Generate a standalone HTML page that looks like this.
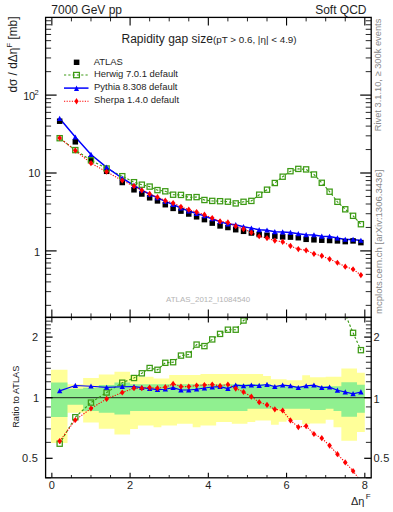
<!DOCTYPE html>
<html><head><meta charset="utf-8"><style>
html,body{margin:0;padding:0;background:#fff;width:393px;height:512px;overflow:hidden}
svg{display:block}
text{font-family:"Liberation Sans",sans-serif}
</style></head><body>
<svg width="393" height="512" viewBox="0 0 393 512">
<defs>
<clipPath id="cm"><rect x="45.60" y="17.40" width="325.60" height="300.00"/></clipPath>
<clipPath id="cr"><rect x="45.60" y="317.40" width="325.60" height="160.40"/></clipPath>
</defs>

<g clip-path="url(#cr)">
<polygon points="51.00,369.70 67.50,369.70 67.50,384.30 83.15,384.30 83.15,378.00 98.79,378.00 98.79,374.50 114.44,374.50 114.44,371.80 130.09,371.80 130.09,375.10 137.91,375.10 137.91,376.80 145.74,376.80 145.74,376.80 153.56,376.80 153.56,378.50 161.39,378.50 161.39,378.50 169.21,378.50 169.21,375.10 177.03,375.10 177.03,375.10 184.86,375.10 184.86,375.10 192.68,375.10 192.68,375.10 200.51,375.10 200.51,374.10 208.33,374.10 208.33,374.10 216.15,374.10 216.15,374.10 223.98,374.10 223.98,374.10 231.80,374.10 231.80,374.10 239.63,374.10 239.63,374.10 247.45,374.10 247.45,374.10 255.27,374.10 255.27,374.10 263.10,374.10 263.10,376.00 270.92,376.00 270.92,379.30 278.75,379.30 278.75,379.30 286.57,379.30 286.57,380.20 294.39,380.20 294.39,380.20 302.22,380.20 302.22,375.30 310.04,375.30 310.04,377.30 317.87,377.30 317.87,377.30 325.69,377.30 325.69,376.80 333.51,376.80 333.51,376.80 341.34,376.80 341.34,368.60 349.16,368.60 349.16,368.60 356.99,368.60 356.99,372.80 364.81,372.80 364.81,432.00 356.99,432.00 356.99,440.70 349.16,440.70 349.16,440.70 341.34,440.70 341.34,427.20 333.51,427.20 333.51,419.80 325.69,419.80 325.69,423.50 317.87,423.50 317.87,423.50 310.04,423.50 310.04,424.20 302.22,424.20 302.22,420.00 294.39,420.00 294.39,420.00 286.57,420.00 286.57,421.70 278.75,421.70 278.75,424.70 270.92,424.70 270.92,420.50 263.10,420.50 263.10,420.50 255.27,420.50 255.27,422.10 247.45,422.10 247.45,423.80 239.63,423.80 239.63,423.80 231.80,423.80 231.80,422.10 223.98,422.10 223.98,422.10 216.15,422.10 216.15,425.50 208.33,425.50 208.33,425.50 200.51,425.50 200.51,427.20 192.68,427.20 192.68,423.80 184.86,423.80 184.86,423.80 177.03,423.80 177.03,425.50 169.21,425.50 169.21,425.50 161.39,425.50 161.39,427.20 153.56,427.20 153.56,425.50 145.74,425.50 145.74,425.50 137.91,425.50 137.91,428.90 130.09,428.90 130.09,434.40 114.44,434.40 114.44,428.80 98.79,428.80 98.79,422.50 83.15,422.50 83.15,412.70 67.50,412.70 67.50,442.90 51.00,442.90" fill="#ffff99"/>
<polygon points="51.00,382.40 67.50,382.40 67.50,388.70 83.15,388.70 83.15,387.80 98.79,387.80 98.79,385.10 114.44,385.10 114.44,382.50 130.09,382.50 130.09,384.20 137.91,384.20 137.91,384.20 145.74,384.20 145.74,384.20 153.56,384.20 153.56,384.20 161.39,384.20 161.39,384.20 169.21,384.20 169.21,384.20 177.03,384.20 177.03,384.20 184.86,384.20 184.86,384.20 192.68,384.20 192.68,384.20 200.51,384.20 200.51,384.20 208.33,384.20 208.33,384.20 216.15,384.20 216.15,384.20 223.98,384.20 223.98,384.20 231.80,384.20 231.80,384.20 239.63,384.20 239.63,384.20 247.45,384.20 247.45,384.20 255.27,384.20 255.27,384.20 263.10,384.20 263.10,384.20 270.92,384.20 270.92,386.30 278.75,386.30 278.75,386.30 286.57,386.30 286.57,386.30 294.39,386.30 294.39,386.30 302.22,386.30 302.22,386.30 310.04,386.30 310.04,386.30 317.87,386.30 317.87,386.30 325.69,386.30 325.69,386.30 333.51,386.30 333.51,386.30 341.34,386.30 341.34,382.20 349.16,382.20 349.16,382.20 356.99,382.20 356.99,384.70 364.81,384.70 364.81,412.80 356.99,412.80 356.99,416.80 349.16,416.80 349.16,416.80 341.34,416.80 341.34,411.10 333.51,411.10 333.51,408.70 325.69,408.70 325.69,409.90 317.87,409.90 317.87,409.90 310.04,409.90 310.04,408.70 302.22,408.70 302.22,408.70 294.39,408.70 294.39,408.70 286.57,408.70 286.57,408.70 278.75,408.70 278.75,408.70 270.92,408.70 270.92,408.70 263.10,408.70 263.10,408.70 255.27,408.70 255.27,408.70 247.45,408.70 247.45,411.00 239.63,411.00 239.63,411.00 231.80,411.00 231.80,411.00 223.98,411.00 223.98,411.00 216.15,411.00 216.15,411.00 208.33,411.00 208.33,411.00 200.51,411.00 200.51,411.00 192.68,411.00 192.68,411.00 184.86,411.00 184.86,411.00 177.03,411.00 177.03,411.00 169.21,411.00 169.21,411.00 161.39,411.00 161.39,411.00 153.56,411.00 153.56,411.00 145.74,411.00 145.74,411.00 137.91,411.00 137.91,411.00 130.09,411.00 130.09,414.50 114.44,414.50 114.44,412.70 98.79,412.70 98.79,411.00 83.15,411.00 83.15,404.70 67.50,404.70 67.50,417.10 51.00,417.10" fill="#90f090"/>
<line x1="45.6" y1="397.7" x2="371.2" y2="397.7" stroke="#111" stroke-width="0.9"/>
<polyline points="59.67,443.70 75.32,417.20 90.97,402.60 106.62,392.50 122.27,382.70 134.00,378.00 141.83,373.30 149.65,368.00 157.47,369.80 165.30,362.80 173.12,362.20 180.95,355.60 188.77,354.50 196.59,344.60 204.42,346.10 212.24,339.40 220.07,333.90 227.89,329.70 235.71,329.70 243.54,320.50 251.36,314.75 259.19,294.85 267.01,279.87 274.83,260.49 282.66,242.14 290.48,227.41 298.31,219.92 306.13,217.07 313.95,228.96 321.78,249.37 329.60,271.60 337.43,296.66 345.25,314.23 353.07,332.84 360.90,350.15" fill="none" stroke="#3c9a14" stroke-width="1.15" stroke-dasharray="2.4,2"/>
<polyline points="59.67,390.90 75.32,385.50 90.97,386.20 106.62,387.40 122.27,386.70 134.00,386.60 141.83,387.60 149.65,388.60 157.47,389.60 165.30,389.20 173.12,387.60 180.95,390.00 188.77,390.00 196.59,389.20 204.42,388.00 212.24,387.00 220.07,386.60 227.89,388.60 235.71,385.10 243.54,385.90 251.36,385.10 259.19,385.50 267.01,384.50 274.83,386.60 282.66,385.10 290.48,385.90 298.31,387.60 306.13,385.90 313.95,385.10 321.78,387.60 329.60,387.10 337.43,390.30 345.25,392.00 353.07,393.80 360.90,392.00" fill="none" stroke="#0000ff" stroke-width="1.15"/>
<polyline points="59.67,441.10 75.32,420.00 90.97,408.50 106.62,398.90 122.27,392.50 134.00,388.20 141.83,388.20 149.65,387.60 157.47,388.20 165.30,387.20 173.12,383.90 180.95,386.60 188.77,386.60 196.59,385.50 204.42,385.00 212.24,384.50 220.07,385.90 227.89,384.50 235.71,388.60 243.54,392.00 251.36,396.70 259.19,402.20 267.01,404.90 274.83,409.30 282.66,410.50 290.48,420.40 298.31,427.10 306.13,426.10 313.95,434.00 321.78,438.20 329.60,445.60 337.43,454.20 345.25,462.40 353.07,471.00 360.90,481.50" fill="none" stroke="#ff0000" stroke-width="1.1" stroke-dasharray="1.2,1.4"/>
</g>
<g clip-path="url(#cr)">
<rect x="57.07" y="441.10" width="5.2" height="5.2" fill="none" stroke="#3c9a14" stroke-width="1.25"/>
<rect x="72.72" y="414.60" width="5.2" height="5.2" fill="none" stroke="#3c9a14" stroke-width="1.25"/>
<rect x="88.37" y="400.00" width="5.2" height="5.2" fill="none" stroke="#3c9a14" stroke-width="1.25"/>
<rect x="104.02" y="389.90" width="5.2" height="5.2" fill="none" stroke="#3c9a14" stroke-width="1.25"/>
<rect x="119.67" y="380.10" width="5.2" height="5.2" fill="none" stroke="#3c9a14" stroke-width="1.25"/>
<rect x="131.40" y="375.40" width="5.2" height="5.2" fill="none" stroke="#3c9a14" stroke-width="1.25"/>
<rect x="139.23" y="370.70" width="5.2" height="5.2" fill="none" stroke="#3c9a14" stroke-width="1.25"/>
<rect x="147.05" y="365.40" width="5.2" height="5.2" fill="none" stroke="#3c9a14" stroke-width="1.25"/>
<rect x="154.87" y="367.20" width="5.2" height="5.2" fill="none" stroke="#3c9a14" stroke-width="1.25"/>
<rect x="162.70" y="360.20" width="5.2" height="5.2" fill="none" stroke="#3c9a14" stroke-width="1.25"/>
<rect x="170.52" y="359.60" width="5.2" height="5.2" fill="none" stroke="#3c9a14" stroke-width="1.25"/>
<rect x="178.35" y="353.00" width="5.2" height="5.2" fill="none" stroke="#3c9a14" stroke-width="1.25"/>
<rect x="186.17" y="351.90" width="5.2" height="5.2" fill="none" stroke="#3c9a14" stroke-width="1.25"/>
<rect x="193.99" y="342.00" width="5.2" height="5.2" fill="none" stroke="#3c9a14" stroke-width="1.25"/>
<rect x="201.82" y="343.50" width="5.2" height="5.2" fill="none" stroke="#3c9a14" stroke-width="1.25"/>
<rect x="209.64" y="336.80" width="5.2" height="5.2" fill="none" stroke="#3c9a14" stroke-width="1.25"/>
<rect x="217.47" y="331.30" width="5.2" height="5.2" fill="none" stroke="#3c9a14" stroke-width="1.25"/>
<rect x="225.29" y="327.10" width="5.2" height="5.2" fill="none" stroke="#3c9a14" stroke-width="1.25"/>
<rect x="233.11" y="327.10" width="5.2" height="5.2" fill="none" stroke="#3c9a14" stroke-width="1.25"/>
<rect x="240.94" y="317.90" width="5.2" height="5.2" fill="none" stroke="#3c9a14" stroke-width="1.25"/>
<rect x="248.76" y="312.15" width="5.2" height="5.2" fill="none" stroke="#3c9a14" stroke-width="1.25"/>
<rect x="256.59" y="292.25" width="5.2" height="5.2" fill="none" stroke="#3c9a14" stroke-width="1.25"/>
<rect x="264.41" y="277.27" width="5.2" height="5.2" fill="none" stroke="#3c9a14" stroke-width="1.25"/>
<rect x="272.23" y="257.89" width="5.2" height="5.2" fill="none" stroke="#3c9a14" stroke-width="1.25"/>
<rect x="280.06" y="239.54" width="5.2" height="5.2" fill="none" stroke="#3c9a14" stroke-width="1.25"/>
<rect x="287.88" y="224.81" width="5.2" height="5.2" fill="none" stroke="#3c9a14" stroke-width="1.25"/>
<rect x="295.71" y="217.32" width="5.2" height="5.2" fill="none" stroke="#3c9a14" stroke-width="1.25"/>
<rect x="303.53" y="214.47" width="5.2" height="5.2" fill="none" stroke="#3c9a14" stroke-width="1.25"/>
<rect x="311.35" y="226.36" width="5.2" height="5.2" fill="none" stroke="#3c9a14" stroke-width="1.25"/>
<rect x="319.18" y="246.77" width="5.2" height="5.2" fill="none" stroke="#3c9a14" stroke-width="1.25"/>
<rect x="327.00" y="269.00" width="5.2" height="5.2" fill="none" stroke="#3c9a14" stroke-width="1.25"/>
<rect x="334.83" y="294.06" width="5.2" height="5.2" fill="none" stroke="#3c9a14" stroke-width="1.25"/>
<rect x="342.65" y="311.63" width="5.2" height="5.2" fill="none" stroke="#3c9a14" stroke-width="1.25"/>
<rect x="350.47" y="330.24" width="5.2" height="5.2" fill="none" stroke="#3c9a14" stroke-width="1.25"/>
<rect x="358.30" y="347.55" width="5.2" height="5.2" fill="none" stroke="#3c9a14" stroke-width="1.25"/>
</g>
<g clip-path="url(#cr)">
<polygon points="59.67,388.20 62.37,393.30 56.97,393.30" fill="#0000ff"/>
<polygon points="75.32,382.80 78.02,387.90 72.62,387.90" fill="#0000ff"/>
<polygon points="90.97,383.50 93.67,388.60 88.27,388.60" fill="#0000ff"/>
<polygon points="106.62,384.70 109.32,389.80 103.92,389.80" fill="#0000ff"/>
<polygon points="122.27,384.00 124.97,389.10 119.57,389.10" fill="#0000ff"/>
<polygon points="134.00,383.90 136.70,389.00 131.30,389.00" fill="#0000ff"/>
<polygon points="141.83,384.90 144.53,390.00 139.13,390.00" fill="#0000ff"/>
<polygon points="149.65,385.90 152.35,391.00 146.95,391.00" fill="#0000ff"/>
<polygon points="157.47,386.90 160.17,392.00 154.77,392.00" fill="#0000ff"/>
<polygon points="165.30,386.50 168.00,391.60 162.60,391.60" fill="#0000ff"/>
<polygon points="173.12,384.90 175.82,390.00 170.42,390.00" fill="#0000ff"/>
<polygon points="180.95,387.30 183.65,392.40 178.25,392.40" fill="#0000ff"/>
<polygon points="188.77,387.30 191.47,392.40 186.07,392.40" fill="#0000ff"/>
<polygon points="196.59,386.50 199.29,391.60 193.89,391.60" fill="#0000ff"/>
<polygon points="204.42,385.30 207.12,390.40 201.72,390.40" fill="#0000ff"/>
<polygon points="212.24,384.30 214.94,389.40 209.54,389.40" fill="#0000ff"/>
<polygon points="220.07,383.90 222.77,389.00 217.37,389.00" fill="#0000ff"/>
<polygon points="227.89,385.90 230.59,391.00 225.19,391.00" fill="#0000ff"/>
<polygon points="235.71,382.40 238.41,387.50 233.01,387.50" fill="#0000ff"/>
<polygon points="243.54,383.20 246.24,388.30 240.84,388.30" fill="#0000ff"/>
<polygon points="251.36,382.40 254.06,387.50 248.66,387.50" fill="#0000ff"/>
<polygon points="259.19,382.80 261.89,387.90 256.49,387.90" fill="#0000ff"/>
<polygon points="267.01,381.80 269.71,386.90 264.31,386.90" fill="#0000ff"/>
<polygon points="274.83,383.90 277.53,389.00 272.13,389.00" fill="#0000ff"/>
<polygon points="282.66,382.40 285.36,387.50 279.96,387.50" fill="#0000ff"/>
<polygon points="290.48,383.20 293.18,388.30 287.78,388.30" fill="#0000ff"/>
<polygon points="298.31,384.90 301.01,390.00 295.61,390.00" fill="#0000ff"/>
<polygon points="306.13,383.20 308.83,388.30 303.43,388.30" fill="#0000ff"/>
<polygon points="313.95,382.40 316.65,387.50 311.25,387.50" fill="#0000ff"/>
<polygon points="321.78,384.90 324.48,390.00 319.08,390.00" fill="#0000ff"/>
<polygon points="329.60,384.40 332.30,389.50 326.90,389.50" fill="#0000ff"/>
<polygon points="337.43,387.60 340.13,392.70 334.73,392.70" fill="#0000ff"/>
<polygon points="345.25,389.30 347.95,394.40 342.55,394.40" fill="#0000ff"/>
<polygon points="353.07,391.10 355.77,396.20 350.37,396.20" fill="#0000ff"/>
<polygon points="360.90,389.30 363.60,394.40 358.20,394.40" fill="#0000ff"/>
</g>
<g clip-path="url(#cr)">
<polygon points="59.67,438.00 61.97,441.10 59.67,444.20 57.37,441.10" fill="#ff0000"/>
<polygon points="75.32,416.90 77.62,420.00 75.32,423.10 73.02,420.00" fill="#ff0000"/>
<polygon points="90.97,405.40 93.27,408.50 90.97,411.60 88.67,408.50" fill="#ff0000"/>
<polygon points="106.62,395.80 108.92,398.90 106.62,402.00 104.32,398.90" fill="#ff0000"/>
<polygon points="122.27,389.40 124.57,392.50 122.27,395.60 119.97,392.50" fill="#ff0000"/>
<polygon points="134.00,385.10 136.30,388.20 134.00,391.30 131.70,388.20" fill="#ff0000"/>
<polygon points="141.83,385.10 144.13,388.20 141.83,391.30 139.53,388.20" fill="#ff0000"/>
<polygon points="149.65,384.50 151.95,387.60 149.65,390.70 147.35,387.60" fill="#ff0000"/>
<polygon points="157.47,385.10 159.77,388.20 157.47,391.30 155.17,388.20" fill="#ff0000"/>
<polygon points="165.30,384.10 167.60,387.20 165.30,390.30 163.00,387.20" fill="#ff0000"/>
<polygon points="173.12,380.80 175.42,383.90 173.12,387.00 170.82,383.90" fill="#ff0000"/>
<polygon points="180.95,383.50 183.25,386.60 180.95,389.70 178.65,386.60" fill="#ff0000"/>
<polygon points="188.77,383.50 191.07,386.60 188.77,389.70 186.47,386.60" fill="#ff0000"/>
<polygon points="196.59,382.40 198.89,385.50 196.59,388.60 194.29,385.50" fill="#ff0000"/>
<polygon points="204.42,381.90 206.72,385.00 204.42,388.10 202.12,385.00" fill="#ff0000"/>
<polygon points="212.24,381.40 214.54,384.50 212.24,387.60 209.94,384.50" fill="#ff0000"/>
<polygon points="220.07,382.80 222.37,385.90 220.07,389.00 217.77,385.90" fill="#ff0000"/>
<polygon points="227.89,381.40 230.19,384.50 227.89,387.60 225.59,384.50" fill="#ff0000"/>
<polygon points="235.71,385.50 238.01,388.60 235.71,391.70 233.41,388.60" fill="#ff0000"/>
<polygon points="243.54,388.90 245.84,392.00 243.54,395.10 241.24,392.00" fill="#ff0000"/>
<polygon points="251.36,393.60 253.66,396.70 251.36,399.80 249.06,396.70" fill="#ff0000"/>
<polygon points="259.19,399.10 261.49,402.20 259.19,405.30 256.89,402.20" fill="#ff0000"/>
<polygon points="267.01,401.80 269.31,404.90 267.01,408.00 264.71,404.90" fill="#ff0000"/>
<polygon points="274.83,406.20 277.13,409.30 274.83,412.40 272.53,409.30" fill="#ff0000"/>
<polygon points="282.66,407.40 284.96,410.50 282.66,413.60 280.36,410.50" fill="#ff0000"/>
<polygon points="290.48,417.30 292.78,420.40 290.48,423.50 288.18,420.40" fill="#ff0000"/>
<polygon points="298.31,424.00 300.61,427.10 298.31,430.20 296.01,427.10" fill="#ff0000"/>
<polygon points="306.13,423.00 308.43,426.10 306.13,429.20 303.83,426.10" fill="#ff0000"/>
<polygon points="313.95,430.90 316.25,434.00 313.95,437.10 311.65,434.00" fill="#ff0000"/>
<polygon points="321.78,435.10 324.08,438.20 321.78,441.30 319.48,438.20" fill="#ff0000"/>
<polygon points="329.60,442.50 331.90,445.60 329.60,448.70 327.30,445.60" fill="#ff0000"/>
<polygon points="337.43,451.10 339.73,454.20 337.43,457.30 335.13,454.20" fill="#ff0000"/>
<polygon points="345.25,459.30 347.55,462.40 345.25,465.50 342.95,462.40" fill="#ff0000"/>
<polygon points="353.07,467.90 355.37,471.00 353.07,474.10 350.77,471.00" fill="#ff0000"/>
<polygon points="360.90,478.40 363.20,481.50 360.90,484.60 358.60,481.50" fill="#ff0000"/>
</g>
<g clip-path="url(#cm)">
<polyline points="59.67,138.20 75.32,150.10 90.97,160.30 106.62,168.50 122.27,176.20 134.00,182.20 141.83,184.70 149.65,186.60 157.47,190.10 165.30,191.30 173.12,194.70 180.95,194.90 188.77,197.30 196.59,197.10 204.42,200.00 212.24,200.90 220.07,201.20 227.89,201.70 235.71,203.40 243.54,201.80 251.36,200.90 259.19,194.70 267.01,189.70 274.83,183.00 282.66,176.70 290.48,171.20 298.31,168.90 306.13,169.40 313.95,174.50 321.78,182.80 329.60,191.70 337.43,201.80 345.25,209.30 353.07,215.80 360.90,224.20" fill="none" stroke="#3c9a14" stroke-width="1.15" stroke-dasharray="2.4,2"/>
<polyline points="59.67,118.57 75.32,137.08 90.97,154.55 106.62,167.31 122.27,178.24 134.00,185.50 141.83,190.09 149.65,194.28 157.47,197.77 165.30,201.41 173.12,204.49 180.95,208.12 188.77,211.02 196.59,213.51 204.42,215.85 212.24,218.96 220.07,221.60 227.89,223.98 235.71,224.82 243.54,226.73 251.36,228.12 259.19,229.78 267.01,230.19 274.83,231.80 282.66,232.02 290.48,232.53 298.31,233.79 306.13,234.73 313.95,234.92 321.78,236.29 329.60,236.40 337.43,238.04 345.25,239.39 353.07,239.39 360.90,240.39" fill="none" stroke="#0000ff" stroke-width="1.5"/>
<polyline points="59.67,138.00 75.32,150.43 90.97,163.18 106.62,171.76 122.27,180.49 134.00,186.12 141.83,190.32 149.65,193.89 157.47,197.22 165.30,200.64 173.12,203.06 180.95,206.80 188.77,209.70 196.59,212.08 204.42,214.69 212.24,217.99 220.07,221.33 227.89,222.39 235.71,226.18 243.54,229.09 251.36,232.61 259.19,236.24 267.01,238.09 274.83,240.59 282.66,241.85 290.48,245.88 298.31,249.08 306.13,250.29 313.95,253.85 321.78,255.87 329.60,259.04 337.43,262.76 345.25,266.64 353.07,269.27 360.90,275.03" fill="none" stroke="#ff0000" stroke-width="1.1" stroke-dasharray="1.2,1.4"/>
</g>
<g clip-path="url(#cm)">
<rect x="56.92" y="118.45" width="5.5" height="5.5" fill="#000"/>
<rect x="72.57" y="139.05" width="5.5" height="5.5" fill="#000"/>
<rect x="88.22" y="156.25" width="5.5" height="5.5" fill="#000"/>
<rect x="103.87" y="168.55" width="5.5" height="5.5" fill="#000"/>
<rect x="119.52" y="179.75" width="5.5" height="5.5" fill="#000"/>
<rect x="131.25" y="187.05" width="5.5" height="5.5" fill="#000"/>
<rect x="139.08" y="191.25" width="5.5" height="5.5" fill="#000"/>
<rect x="146.90" y="195.05" width="5.5" height="5.5" fill="#000"/>
<rect x="154.72" y="198.15" width="5.5" height="5.5" fill="#000"/>
<rect x="162.55" y="201.95" width="5.5" height="5.5" fill="#000"/>
<rect x="170.37" y="205.65" width="5.5" height="5.5" fill="#000"/>
<rect x="178.20" y="208.35" width="5.5" height="5.5" fill="#000"/>
<rect x="186.02" y="211.25" width="5.5" height="5.5" fill="#000"/>
<rect x="193.84" y="214.05" width="5.5" height="5.5" fill="#000"/>
<rect x="201.67" y="216.85" width="5.5" height="5.5" fill="#000"/>
<rect x="209.49" y="220.35" width="5.5" height="5.5" fill="#000"/>
<rect x="217.32" y="223.15" width="5.5" height="5.5" fill="#000"/>
<rect x="225.14" y="224.75" width="5.5" height="5.5" fill="#000"/>
<rect x="232.96" y="226.95" width="5.5" height="5.5" fill="#000"/>
<rect x="240.79" y="228.55" width="5.5" height="5.5" fill="#000"/>
<rect x="248.61" y="230.25" width="5.5" height="5.5" fill="#000"/>
<rect x="256.44" y="231.75" width="5.5" height="5.5" fill="#000"/>
<rect x="264.26" y="232.55" width="5.5" height="5.5" fill="#000"/>
<rect x="272.08" y="233.35" width="5.5" height="5.5" fill="#000"/>
<rect x="279.91" y="234.15" width="5.5" height="5.5" fill="#000"/>
<rect x="287.73" y="234.35" width="5.5" height="5.5" fill="#000"/>
<rect x="295.56" y="234.95" width="5.5" height="5.5" fill="#000"/>
<rect x="303.38" y="236.55" width="5.5" height="5.5" fill="#000"/>
<rect x="311.20" y="237.05" width="5.5" height="5.5" fill="#000"/>
<rect x="319.03" y="237.45" width="5.5" height="5.5" fill="#000"/>
<rect x="326.85" y="237.75" width="5.5" height="5.5" fill="#000"/>
<rect x="334.68" y="238.15" width="5.5" height="5.5" fill="#000"/>
<rect x="342.50" y="238.85" width="5.5" height="5.5" fill="#000"/>
<rect x="350.32" y="238.15" width="5.5" height="5.5" fill="#000"/>
<rect x="358.15" y="239.85" width="5.5" height="5.5" fill="#000"/>
</g>
<g clip-path="url(#cm)">
<rect x="57.07" y="135.60" width="5.2" height="5.2" fill="none" stroke="#3c9a14" stroke-width="1.25"/>
<rect x="72.72" y="147.50" width="5.2" height="5.2" fill="none" stroke="#3c9a14" stroke-width="1.25"/>
<rect x="88.37" y="157.70" width="5.2" height="5.2" fill="none" stroke="#3c9a14" stroke-width="1.25"/>
<rect x="104.02" y="165.90" width="5.2" height="5.2" fill="none" stroke="#3c9a14" stroke-width="1.25"/>
<rect x="119.67" y="173.60" width="5.2" height="5.2" fill="none" stroke="#3c9a14" stroke-width="1.25"/>
<rect x="131.40" y="179.60" width="5.2" height="5.2" fill="none" stroke="#3c9a14" stroke-width="1.25"/>
<rect x="139.23" y="182.10" width="5.2" height="5.2" fill="none" stroke="#3c9a14" stroke-width="1.25"/>
<rect x="147.05" y="184.00" width="5.2" height="5.2" fill="none" stroke="#3c9a14" stroke-width="1.25"/>
<rect x="154.87" y="187.50" width="5.2" height="5.2" fill="none" stroke="#3c9a14" stroke-width="1.25"/>
<rect x="162.70" y="188.70" width="5.2" height="5.2" fill="none" stroke="#3c9a14" stroke-width="1.25"/>
<rect x="170.52" y="192.10" width="5.2" height="5.2" fill="none" stroke="#3c9a14" stroke-width="1.25"/>
<rect x="178.35" y="192.30" width="5.2" height="5.2" fill="none" stroke="#3c9a14" stroke-width="1.25"/>
<rect x="186.17" y="194.70" width="5.2" height="5.2" fill="none" stroke="#3c9a14" stroke-width="1.25"/>
<rect x="193.99" y="194.50" width="5.2" height="5.2" fill="none" stroke="#3c9a14" stroke-width="1.25"/>
<rect x="201.82" y="197.40" width="5.2" height="5.2" fill="none" stroke="#3c9a14" stroke-width="1.25"/>
<rect x="209.64" y="198.30" width="5.2" height="5.2" fill="none" stroke="#3c9a14" stroke-width="1.25"/>
<rect x="217.47" y="198.60" width="5.2" height="5.2" fill="none" stroke="#3c9a14" stroke-width="1.25"/>
<rect x="225.29" y="199.10" width="5.2" height="5.2" fill="none" stroke="#3c9a14" stroke-width="1.25"/>
<rect x="233.11" y="200.80" width="5.2" height="5.2" fill="none" stroke="#3c9a14" stroke-width="1.25"/>
<rect x="240.94" y="199.20" width="5.2" height="5.2" fill="none" stroke="#3c9a14" stroke-width="1.25"/>
<rect x="248.76" y="198.30" width="5.2" height="5.2" fill="none" stroke="#3c9a14" stroke-width="1.25"/>
<rect x="256.59" y="192.10" width="5.2" height="5.2" fill="none" stroke="#3c9a14" stroke-width="1.25"/>
<rect x="264.41" y="187.10" width="5.2" height="5.2" fill="none" stroke="#3c9a14" stroke-width="1.25"/>
<rect x="272.23" y="180.40" width="5.2" height="5.2" fill="none" stroke="#3c9a14" stroke-width="1.25"/>
<rect x="280.06" y="174.10" width="5.2" height="5.2" fill="none" stroke="#3c9a14" stroke-width="1.25"/>
<rect x="287.88" y="168.60" width="5.2" height="5.2" fill="none" stroke="#3c9a14" stroke-width="1.25"/>
<rect x="295.71" y="166.30" width="5.2" height="5.2" fill="none" stroke="#3c9a14" stroke-width="1.25"/>
<rect x="303.53" y="166.80" width="5.2" height="5.2" fill="none" stroke="#3c9a14" stroke-width="1.25"/>
<rect x="311.35" y="171.90" width="5.2" height="5.2" fill="none" stroke="#3c9a14" stroke-width="1.25"/>
<rect x="319.18" y="180.20" width="5.2" height="5.2" fill="none" stroke="#3c9a14" stroke-width="1.25"/>
<rect x="327.00" y="189.10" width="5.2" height="5.2" fill="none" stroke="#3c9a14" stroke-width="1.25"/>
<rect x="334.83" y="199.20" width="5.2" height="5.2" fill="none" stroke="#3c9a14" stroke-width="1.25"/>
<rect x="342.65" y="206.70" width="5.2" height="5.2" fill="none" stroke="#3c9a14" stroke-width="1.25"/>
<rect x="350.47" y="213.20" width="5.2" height="5.2" fill="none" stroke="#3c9a14" stroke-width="1.25"/>
<rect x="358.30" y="221.60" width="5.2" height="5.2" fill="none" stroke="#3c9a14" stroke-width="1.25"/>
</g>
<g clip-path="url(#cm)">
<polygon points="59.67,115.87 62.37,120.97 56.97,120.97" fill="#0000ff"/>
<polygon points="75.32,134.38 78.02,139.48 72.62,139.48" fill="#0000ff"/>
<polygon points="90.97,151.85 93.67,156.95 88.27,156.95" fill="#0000ff"/>
<polygon points="106.62,164.61 109.32,169.71 103.92,169.71" fill="#0000ff"/>
<polygon points="122.27,175.54 124.97,180.64 119.57,180.64" fill="#0000ff"/>
<polygon points="134.00,182.80 136.70,187.90 131.30,187.90" fill="#0000ff"/>
<polygon points="141.83,187.39 144.53,192.49 139.13,192.49" fill="#0000ff"/>
<polygon points="149.65,191.58 152.35,196.68 146.95,196.68" fill="#0000ff"/>
<polygon points="157.47,195.07 160.17,200.17 154.77,200.17" fill="#0000ff"/>
<polygon points="165.30,198.71 168.00,203.81 162.60,203.81" fill="#0000ff"/>
<polygon points="173.12,201.79 175.82,206.89 170.42,206.89" fill="#0000ff"/>
<polygon points="180.95,205.42 183.65,210.52 178.25,210.52" fill="#0000ff"/>
<polygon points="188.77,208.32 191.47,213.42 186.07,213.42" fill="#0000ff"/>
<polygon points="196.59,210.81 199.29,215.91 193.89,215.91" fill="#0000ff"/>
<polygon points="204.42,213.15 207.12,218.25 201.72,218.25" fill="#0000ff"/>
<polygon points="212.24,216.26 214.94,221.36 209.54,221.36" fill="#0000ff"/>
<polygon points="220.07,218.90 222.77,224.00 217.37,224.00" fill="#0000ff"/>
<polygon points="227.89,221.28 230.59,226.38 225.19,226.38" fill="#0000ff"/>
<polygon points="235.71,222.12 238.41,227.22 233.01,227.22" fill="#0000ff"/>
<polygon points="243.54,224.03 246.24,229.13 240.84,229.13" fill="#0000ff"/>
<polygon points="251.36,225.42 254.06,230.52 248.66,230.52" fill="#0000ff"/>
<polygon points="259.19,227.08 261.89,232.18 256.49,232.18" fill="#0000ff"/>
<polygon points="267.01,227.49 269.71,232.59 264.31,232.59" fill="#0000ff"/>
<polygon points="274.83,229.10 277.53,234.20 272.13,234.20" fill="#0000ff"/>
<polygon points="282.66,229.32 285.36,234.42 279.96,234.42" fill="#0000ff"/>
<polygon points="290.48,229.83 293.18,234.93 287.78,234.93" fill="#0000ff"/>
<polygon points="298.31,231.09 301.01,236.19 295.61,236.19" fill="#0000ff"/>
<polygon points="306.13,232.03 308.83,237.13 303.43,237.13" fill="#0000ff"/>
<polygon points="313.95,232.22 316.65,237.32 311.25,237.32" fill="#0000ff"/>
<polygon points="321.78,233.59 324.48,238.69 319.08,238.69" fill="#0000ff"/>
<polygon points="329.60,233.70 332.30,238.80 326.90,238.80" fill="#0000ff"/>
<polygon points="337.43,235.34 340.13,240.44 334.73,240.44" fill="#0000ff"/>
<polygon points="345.25,236.69 347.95,241.79 342.55,241.79" fill="#0000ff"/>
<polygon points="353.07,236.69 355.77,241.79 350.37,241.79" fill="#0000ff"/>
<polygon points="360.90,237.69 363.60,242.79 358.20,242.79" fill="#0000ff"/>
</g>
<g clip-path="url(#cm)">
<polygon points="59.67,134.90 61.97,138.00 59.67,141.10 57.37,138.00" fill="#ff0000"/>
<polygon points="75.32,147.33 77.62,150.43 75.32,153.53 73.02,150.43" fill="#ff0000"/>
<polygon points="90.97,160.08 93.27,163.18 90.97,166.28 88.67,163.18" fill="#ff0000"/>
<polygon points="106.62,168.66 108.92,171.76 106.62,174.86 104.32,171.76" fill="#ff0000"/>
<polygon points="122.27,177.39 124.57,180.49 122.27,183.59 119.97,180.49" fill="#ff0000"/>
<polygon points="134.00,183.02 136.30,186.12 134.00,189.22 131.70,186.12" fill="#ff0000"/>
<polygon points="141.83,187.22 144.13,190.32 141.83,193.42 139.53,190.32" fill="#ff0000"/>
<polygon points="149.65,190.79 151.95,193.89 149.65,196.99 147.35,193.89" fill="#ff0000"/>
<polygon points="157.47,194.12 159.77,197.22 157.47,200.32 155.17,197.22" fill="#ff0000"/>
<polygon points="165.30,197.54 167.60,200.64 165.30,203.74 163.00,200.64" fill="#ff0000"/>
<polygon points="173.12,199.96 175.42,203.06 173.12,206.16 170.82,203.06" fill="#ff0000"/>
<polygon points="180.95,203.70 183.25,206.80 180.95,209.90 178.65,206.80" fill="#ff0000"/>
<polygon points="188.77,206.60 191.07,209.70 188.77,212.80 186.47,209.70" fill="#ff0000"/>
<polygon points="196.59,208.98 198.89,212.08 196.59,215.18 194.29,212.08" fill="#ff0000"/>
<polygon points="204.42,211.59 206.72,214.69 204.42,217.79 202.12,214.69" fill="#ff0000"/>
<polygon points="212.24,214.89 214.54,217.99 212.24,221.09 209.94,217.99" fill="#ff0000"/>
<polygon points="220.07,218.23 222.37,221.33 220.07,224.43 217.77,221.33" fill="#ff0000"/>
<polygon points="227.89,219.29 230.19,222.39 227.89,225.49 225.59,222.39" fill="#ff0000"/>
<polygon points="235.71,223.08 238.01,226.18 235.71,229.28 233.41,226.18" fill="#ff0000"/>
<polygon points="243.54,225.99 245.84,229.09 243.54,232.19 241.24,229.09" fill="#ff0000"/>
<polygon points="251.36,229.51 253.66,232.61 251.36,235.71 249.06,232.61" fill="#ff0000"/>
<polygon points="259.19,233.14 261.49,236.24 259.19,239.34 256.89,236.24" fill="#ff0000"/>
<polygon points="267.01,234.99 269.31,238.09 267.01,241.19 264.71,238.09" fill="#ff0000"/>
<polygon points="274.83,237.49 277.13,240.59 274.83,243.69 272.53,240.59" fill="#ff0000"/>
<polygon points="282.66,238.75 284.96,241.85 282.66,244.95 280.36,241.85" fill="#ff0000"/>
<polygon points="290.48,242.78 292.78,245.88 290.48,248.98 288.18,245.88" fill="#ff0000"/>
<polygon points="298.31,245.98 300.61,249.08 298.31,252.18 296.01,249.08" fill="#ff0000"/>
<polygon points="306.13,247.19 308.43,250.29 306.13,253.39 303.83,250.29" fill="#ff0000"/>
<polygon points="313.95,250.75 316.25,253.85 313.95,256.95 311.65,253.85" fill="#ff0000"/>
<polygon points="321.78,252.77 324.08,255.87 321.78,258.97 319.48,255.87" fill="#ff0000"/>
<polygon points="329.60,255.94 331.90,259.04 329.60,262.14 327.30,259.04" fill="#ff0000"/>
<polygon points="337.43,259.66 339.73,262.76 337.43,265.86 335.13,262.76" fill="#ff0000"/>
<polygon points="345.25,263.54 347.55,266.64 345.25,269.74 342.95,266.64" fill="#ff0000"/>
<polygon points="353.07,266.17 355.37,269.27 353.07,272.37 350.77,269.27" fill="#ff0000"/>
<polygon points="360.90,271.93 363.20,275.03 360.90,278.13 358.60,275.03" fill="#ff0000"/>
</g>
<rect x="45.6" y="17.4" width="325.60" height="300.00" fill="none" stroke="#000" stroke-width="1.3"/>
<rect x="45.6" y="317.4" width="325.60" height="160.40" fill="none" stroke="#000" stroke-width="1.3"/>
<line x1="51.85" y1="17.40" x2="51.85" y2="25.40" stroke="#000" stroke-width="1.1"/>
<line x1="51.85" y1="317.40" x2="51.85" y2="309.40" stroke="#000" stroke-width="1.1"/>
<line x1="51.85" y1="317.40" x2="51.85" y2="322.40" stroke="#000" stroke-width="1.1"/>
<line x1="51.85" y1="477.80" x2="51.85" y2="472.80" stroke="#000" stroke-width="1.1"/>
<line x1="71.41" y1="17.40" x2="71.41" y2="21.40" stroke="#000" stroke-width="0.85"/>
<line x1="71.41" y1="317.40" x2="71.41" y2="313.40" stroke="#000" stroke-width="0.85"/>
<line x1="71.41" y1="317.40" x2="71.41" y2="320.20" stroke="#000" stroke-width="0.85"/>
<line x1="71.41" y1="477.80" x2="71.41" y2="475.00" stroke="#000" stroke-width="0.85"/>
<line x1="90.97" y1="17.40" x2="90.97" y2="21.40" stroke="#000" stroke-width="0.85"/>
<line x1="90.97" y1="317.40" x2="90.97" y2="313.40" stroke="#000" stroke-width="0.85"/>
<line x1="90.97" y1="317.40" x2="90.97" y2="320.20" stroke="#000" stroke-width="0.85"/>
<line x1="90.97" y1="477.80" x2="90.97" y2="475.00" stroke="#000" stroke-width="0.85"/>
<line x1="110.53" y1="17.40" x2="110.53" y2="21.40" stroke="#000" stroke-width="0.85"/>
<line x1="110.53" y1="317.40" x2="110.53" y2="313.40" stroke="#000" stroke-width="0.85"/>
<line x1="110.53" y1="317.40" x2="110.53" y2="320.20" stroke="#000" stroke-width="0.85"/>
<line x1="110.53" y1="477.80" x2="110.53" y2="475.00" stroke="#000" stroke-width="0.85"/>
<line x1="130.09" y1="17.40" x2="130.09" y2="25.40" stroke="#000" stroke-width="1.1"/>
<line x1="130.09" y1="317.40" x2="130.09" y2="309.40" stroke="#000" stroke-width="1.1"/>
<line x1="130.09" y1="317.40" x2="130.09" y2="322.40" stroke="#000" stroke-width="1.1"/>
<line x1="130.09" y1="477.80" x2="130.09" y2="472.80" stroke="#000" stroke-width="1.1"/>
<line x1="149.65" y1="17.40" x2="149.65" y2="21.40" stroke="#000" stroke-width="0.85"/>
<line x1="149.65" y1="317.40" x2="149.65" y2="313.40" stroke="#000" stroke-width="0.85"/>
<line x1="149.65" y1="317.40" x2="149.65" y2="320.20" stroke="#000" stroke-width="0.85"/>
<line x1="149.65" y1="477.80" x2="149.65" y2="475.00" stroke="#000" stroke-width="0.85"/>
<line x1="169.21" y1="17.40" x2="169.21" y2="21.40" stroke="#000" stroke-width="0.85"/>
<line x1="169.21" y1="317.40" x2="169.21" y2="313.40" stroke="#000" stroke-width="0.85"/>
<line x1="169.21" y1="317.40" x2="169.21" y2="320.20" stroke="#000" stroke-width="0.85"/>
<line x1="169.21" y1="477.80" x2="169.21" y2="475.00" stroke="#000" stroke-width="0.85"/>
<line x1="188.77" y1="17.40" x2="188.77" y2="21.40" stroke="#000" stroke-width="0.85"/>
<line x1="188.77" y1="317.40" x2="188.77" y2="313.40" stroke="#000" stroke-width="0.85"/>
<line x1="188.77" y1="317.40" x2="188.77" y2="320.20" stroke="#000" stroke-width="0.85"/>
<line x1="188.77" y1="477.80" x2="188.77" y2="475.00" stroke="#000" stroke-width="0.85"/>
<line x1="208.33" y1="17.40" x2="208.33" y2="25.40" stroke="#000" stroke-width="1.1"/>
<line x1="208.33" y1="317.40" x2="208.33" y2="309.40" stroke="#000" stroke-width="1.1"/>
<line x1="208.33" y1="317.40" x2="208.33" y2="322.40" stroke="#000" stroke-width="1.1"/>
<line x1="208.33" y1="477.80" x2="208.33" y2="472.80" stroke="#000" stroke-width="1.1"/>
<line x1="227.89" y1="17.40" x2="227.89" y2="21.40" stroke="#000" stroke-width="0.85"/>
<line x1="227.89" y1="317.40" x2="227.89" y2="313.40" stroke="#000" stroke-width="0.85"/>
<line x1="227.89" y1="317.40" x2="227.89" y2="320.20" stroke="#000" stroke-width="0.85"/>
<line x1="227.89" y1="477.80" x2="227.89" y2="475.00" stroke="#000" stroke-width="0.85"/>
<line x1="247.45" y1="17.40" x2="247.45" y2="21.40" stroke="#000" stroke-width="0.85"/>
<line x1="247.45" y1="317.40" x2="247.45" y2="313.40" stroke="#000" stroke-width="0.85"/>
<line x1="247.45" y1="317.40" x2="247.45" y2="320.20" stroke="#000" stroke-width="0.85"/>
<line x1="247.45" y1="477.80" x2="247.45" y2="475.00" stroke="#000" stroke-width="0.85"/>
<line x1="267.01" y1="17.40" x2="267.01" y2="21.40" stroke="#000" stroke-width="0.85"/>
<line x1="267.01" y1="317.40" x2="267.01" y2="313.40" stroke="#000" stroke-width="0.85"/>
<line x1="267.01" y1="317.40" x2="267.01" y2="320.20" stroke="#000" stroke-width="0.85"/>
<line x1="267.01" y1="477.80" x2="267.01" y2="475.00" stroke="#000" stroke-width="0.85"/>
<line x1="286.57" y1="17.40" x2="286.57" y2="25.40" stroke="#000" stroke-width="1.1"/>
<line x1="286.57" y1="317.40" x2="286.57" y2="309.40" stroke="#000" stroke-width="1.1"/>
<line x1="286.57" y1="317.40" x2="286.57" y2="322.40" stroke="#000" stroke-width="1.1"/>
<line x1="286.57" y1="477.80" x2="286.57" y2="472.80" stroke="#000" stroke-width="1.1"/>
<line x1="306.13" y1="17.40" x2="306.13" y2="21.40" stroke="#000" stroke-width="0.85"/>
<line x1="306.13" y1="317.40" x2="306.13" y2="313.40" stroke="#000" stroke-width="0.85"/>
<line x1="306.13" y1="317.40" x2="306.13" y2="320.20" stroke="#000" stroke-width="0.85"/>
<line x1="306.13" y1="477.80" x2="306.13" y2="475.00" stroke="#000" stroke-width="0.85"/>
<line x1="325.69" y1="17.40" x2="325.69" y2="21.40" stroke="#000" stroke-width="0.85"/>
<line x1="325.69" y1="317.40" x2="325.69" y2="313.40" stroke="#000" stroke-width="0.85"/>
<line x1="325.69" y1="317.40" x2="325.69" y2="320.20" stroke="#000" stroke-width="0.85"/>
<line x1="325.69" y1="477.80" x2="325.69" y2="475.00" stroke="#000" stroke-width="0.85"/>
<line x1="345.25" y1="17.40" x2="345.25" y2="21.40" stroke="#000" stroke-width="0.85"/>
<line x1="345.25" y1="317.40" x2="345.25" y2="313.40" stroke="#000" stroke-width="0.85"/>
<line x1="345.25" y1="317.40" x2="345.25" y2="320.20" stroke="#000" stroke-width="0.85"/>
<line x1="345.25" y1="477.80" x2="345.25" y2="475.00" stroke="#000" stroke-width="0.85"/>
<line x1="364.81" y1="17.40" x2="364.81" y2="25.40" stroke="#000" stroke-width="1.1"/>
<line x1="364.81" y1="317.40" x2="364.81" y2="309.40" stroke="#000" stroke-width="1.1"/>
<line x1="364.81" y1="317.40" x2="364.81" y2="322.40" stroke="#000" stroke-width="1.1"/>
<line x1="364.81" y1="477.80" x2="364.81" y2="472.80" stroke="#000" stroke-width="1.1"/>
<line x1="45.60" y1="305.35" x2="51.10" y2="305.35" stroke="#000" stroke-width="0.85"/>
<line x1="371.20" y1="305.35" x2="365.70" y2="305.35" stroke="#000" stroke-width="0.85"/>
<line x1="45.60" y1="291.63" x2="51.10" y2="291.63" stroke="#000" stroke-width="0.85"/>
<line x1="371.20" y1="291.63" x2="365.70" y2="291.63" stroke="#000" stroke-width="0.85"/>
<line x1="45.60" y1="281.90" x2="51.10" y2="281.90" stroke="#000" stroke-width="0.85"/>
<line x1="371.20" y1="281.90" x2="365.70" y2="281.90" stroke="#000" stroke-width="0.85"/>
<line x1="45.60" y1="274.35" x2="51.10" y2="274.35" stroke="#000" stroke-width="0.85"/>
<line x1="371.20" y1="274.35" x2="365.70" y2="274.35" stroke="#000" stroke-width="0.85"/>
<line x1="45.60" y1="268.18" x2="51.10" y2="268.18" stroke="#000" stroke-width="0.85"/>
<line x1="371.20" y1="268.18" x2="365.70" y2="268.18" stroke="#000" stroke-width="0.85"/>
<line x1="45.60" y1="262.97" x2="51.10" y2="262.97" stroke="#000" stroke-width="0.85"/>
<line x1="371.20" y1="262.97" x2="365.70" y2="262.97" stroke="#000" stroke-width="0.85"/>
<line x1="45.60" y1="258.45" x2="51.10" y2="258.45" stroke="#000" stroke-width="0.85"/>
<line x1="371.20" y1="258.45" x2="365.70" y2="258.45" stroke="#000" stroke-width="0.85"/>
<line x1="45.60" y1="254.46" x2="51.10" y2="254.46" stroke="#000" stroke-width="0.85"/>
<line x1="371.20" y1="254.46" x2="365.70" y2="254.46" stroke="#000" stroke-width="0.85"/>
<line x1="45.60" y1="250.90" x2="56.60" y2="250.90" stroke="#000" stroke-width="1.2"/>
<line x1="371.20" y1="250.90" x2="360.20" y2="250.90" stroke="#000" stroke-width="1.2"/>
<line x1="45.60" y1="227.45" x2="51.10" y2="227.45" stroke="#000" stroke-width="0.85"/>
<line x1="371.20" y1="227.45" x2="365.70" y2="227.45" stroke="#000" stroke-width="0.85"/>
<line x1="45.60" y1="213.73" x2="51.10" y2="213.73" stroke="#000" stroke-width="0.85"/>
<line x1="371.20" y1="213.73" x2="365.70" y2="213.73" stroke="#000" stroke-width="0.85"/>
<line x1="45.60" y1="204.00" x2="51.10" y2="204.00" stroke="#000" stroke-width="0.85"/>
<line x1="371.20" y1="204.00" x2="365.70" y2="204.00" stroke="#000" stroke-width="0.85"/>
<line x1="45.60" y1="196.45" x2="51.10" y2="196.45" stroke="#000" stroke-width="0.85"/>
<line x1="371.20" y1="196.45" x2="365.70" y2="196.45" stroke="#000" stroke-width="0.85"/>
<line x1="45.60" y1="190.28" x2="51.10" y2="190.28" stroke="#000" stroke-width="0.85"/>
<line x1="371.20" y1="190.28" x2="365.70" y2="190.28" stroke="#000" stroke-width="0.85"/>
<line x1="45.60" y1="185.07" x2="51.10" y2="185.07" stroke="#000" stroke-width="0.85"/>
<line x1="371.20" y1="185.07" x2="365.70" y2="185.07" stroke="#000" stroke-width="0.85"/>
<line x1="45.60" y1="180.55" x2="51.10" y2="180.55" stroke="#000" stroke-width="0.85"/>
<line x1="371.20" y1="180.55" x2="365.70" y2="180.55" stroke="#000" stroke-width="0.85"/>
<line x1="45.60" y1="176.56" x2="51.10" y2="176.56" stroke="#000" stroke-width="0.85"/>
<line x1="371.20" y1="176.56" x2="365.70" y2="176.56" stroke="#000" stroke-width="0.85"/>
<line x1="45.60" y1="173.00" x2="56.60" y2="173.00" stroke="#000" stroke-width="1.2"/>
<line x1="371.20" y1="173.00" x2="360.20" y2="173.00" stroke="#000" stroke-width="1.2"/>
<line x1="45.60" y1="149.55" x2="51.10" y2="149.55" stroke="#000" stroke-width="0.85"/>
<line x1="371.20" y1="149.55" x2="365.70" y2="149.55" stroke="#000" stroke-width="0.85"/>
<line x1="45.60" y1="135.83" x2="51.10" y2="135.83" stroke="#000" stroke-width="0.85"/>
<line x1="371.20" y1="135.83" x2="365.70" y2="135.83" stroke="#000" stroke-width="0.85"/>
<line x1="45.60" y1="126.10" x2="51.10" y2="126.10" stroke="#000" stroke-width="0.85"/>
<line x1="371.20" y1="126.10" x2="365.70" y2="126.10" stroke="#000" stroke-width="0.85"/>
<line x1="45.60" y1="118.55" x2="51.10" y2="118.55" stroke="#000" stroke-width="0.85"/>
<line x1="371.20" y1="118.55" x2="365.70" y2="118.55" stroke="#000" stroke-width="0.85"/>
<line x1="45.60" y1="112.38" x2="51.10" y2="112.38" stroke="#000" stroke-width="0.85"/>
<line x1="371.20" y1="112.38" x2="365.70" y2="112.38" stroke="#000" stroke-width="0.85"/>
<line x1="45.60" y1="107.17" x2="51.10" y2="107.17" stroke="#000" stroke-width="0.85"/>
<line x1="371.20" y1="107.17" x2="365.70" y2="107.17" stroke="#000" stroke-width="0.85"/>
<line x1="45.60" y1="102.65" x2="51.10" y2="102.65" stroke="#000" stroke-width="0.85"/>
<line x1="371.20" y1="102.65" x2="365.70" y2="102.65" stroke="#000" stroke-width="0.85"/>
<line x1="45.60" y1="98.66" x2="51.10" y2="98.66" stroke="#000" stroke-width="0.85"/>
<line x1="371.20" y1="98.66" x2="365.70" y2="98.66" stroke="#000" stroke-width="0.85"/>
<line x1="45.60" y1="95.10" x2="56.60" y2="95.10" stroke="#000" stroke-width="1.2"/>
<line x1="371.20" y1="95.10" x2="360.20" y2="95.10" stroke="#000" stroke-width="1.2"/>
<line x1="45.60" y1="71.65" x2="51.10" y2="71.65" stroke="#000" stroke-width="0.85"/>
<line x1="371.20" y1="71.65" x2="365.70" y2="71.65" stroke="#000" stroke-width="0.85"/>
<line x1="45.60" y1="57.93" x2="51.10" y2="57.93" stroke="#000" stroke-width="0.85"/>
<line x1="371.20" y1="57.93" x2="365.70" y2="57.93" stroke="#000" stroke-width="0.85"/>
<line x1="45.60" y1="48.20" x2="51.10" y2="48.20" stroke="#000" stroke-width="0.85"/>
<line x1="371.20" y1="48.20" x2="365.70" y2="48.20" stroke="#000" stroke-width="0.85"/>
<line x1="45.60" y1="40.65" x2="51.10" y2="40.65" stroke="#000" stroke-width="0.85"/>
<line x1="371.20" y1="40.65" x2="365.70" y2="40.65" stroke="#000" stroke-width="0.85"/>
<line x1="45.60" y1="34.48" x2="51.10" y2="34.48" stroke="#000" stroke-width="0.85"/>
<line x1="371.20" y1="34.48" x2="365.70" y2="34.48" stroke="#000" stroke-width="0.85"/>
<line x1="45.60" y1="29.27" x2="51.10" y2="29.27" stroke="#000" stroke-width="0.85"/>
<line x1="371.20" y1="29.27" x2="365.70" y2="29.27" stroke="#000" stroke-width="0.85"/>
<line x1="45.60" y1="24.75" x2="51.10" y2="24.75" stroke="#000" stroke-width="0.85"/>
<line x1="371.20" y1="24.75" x2="365.70" y2="24.75" stroke="#000" stroke-width="0.85"/>
<line x1="45.60" y1="20.76" x2="51.10" y2="20.76" stroke="#000" stroke-width="0.85"/>
<line x1="371.20" y1="20.76" x2="365.70" y2="20.76" stroke="#000" stroke-width="0.85"/>
<line x1="45.60" y1="477.81" x2="50.90" y2="477.81" stroke="#000" stroke-width="0.85"/>
<line x1="371.20" y1="477.81" x2="365.90" y2="477.81" stroke="#000" stroke-width="0.85"/>
<line x1="45.60" y1="458.30" x2="52.60" y2="458.30" stroke="#000" stroke-width="1.25"/>
<line x1="371.20" y1="458.30" x2="364.20" y2="458.30" stroke="#000" stroke-width="1.25"/>
<line x1="45.60" y1="442.36" x2="50.90" y2="442.36" stroke="#000" stroke-width="0.85"/>
<line x1="371.20" y1="442.36" x2="365.90" y2="442.36" stroke="#000" stroke-width="0.85"/>
<line x1="45.60" y1="428.88" x2="50.90" y2="428.88" stroke="#000" stroke-width="0.85"/>
<line x1="371.20" y1="428.88" x2="365.90" y2="428.88" stroke="#000" stroke-width="0.85"/>
<line x1="45.60" y1="417.21" x2="50.90" y2="417.21" stroke="#000" stroke-width="0.85"/>
<line x1="371.20" y1="417.21" x2="365.90" y2="417.21" stroke="#000" stroke-width="0.85"/>
<line x1="45.60" y1="406.91" x2="50.90" y2="406.91" stroke="#000" stroke-width="0.85"/>
<line x1="371.20" y1="406.91" x2="365.90" y2="406.91" stroke="#000" stroke-width="0.85"/>
<line x1="45.60" y1="397.70" x2="52.60" y2="397.70" stroke="#000" stroke-width="1.25"/>
<line x1="371.20" y1="397.70" x2="364.20" y2="397.70" stroke="#000" stroke-width="1.25"/>
<line x1="45.60" y1="389.37" x2="50.90" y2="389.37" stroke="#000" stroke-width="0.85"/>
<line x1="371.20" y1="389.37" x2="365.90" y2="389.37" stroke="#000" stroke-width="0.85"/>
<line x1="45.60" y1="381.76" x2="50.90" y2="381.76" stroke="#000" stroke-width="0.85"/>
<line x1="371.20" y1="381.76" x2="365.90" y2="381.76" stroke="#000" stroke-width="0.85"/>
<line x1="45.60" y1="374.76" x2="50.90" y2="374.76" stroke="#000" stroke-width="0.85"/>
<line x1="371.20" y1="374.76" x2="365.90" y2="374.76" stroke="#000" stroke-width="0.85"/>
<line x1="45.60" y1="368.28" x2="50.90" y2="368.28" stroke="#000" stroke-width="0.85"/>
<line x1="371.20" y1="368.28" x2="365.90" y2="368.28" stroke="#000" stroke-width="0.85"/>
<line x1="45.60" y1="362.25" x2="50.90" y2="362.25" stroke="#000" stroke-width="0.85"/>
<line x1="371.20" y1="362.25" x2="365.90" y2="362.25" stroke="#000" stroke-width="0.85"/>
<line x1="45.60" y1="356.61" x2="50.90" y2="356.61" stroke="#000" stroke-width="0.85"/>
<line x1="371.20" y1="356.61" x2="365.90" y2="356.61" stroke="#000" stroke-width="0.85"/>
<line x1="45.60" y1="351.31" x2="50.90" y2="351.31" stroke="#000" stroke-width="0.85"/>
<line x1="371.20" y1="351.31" x2="365.90" y2="351.31" stroke="#000" stroke-width="0.85"/>
<line x1="45.60" y1="346.31" x2="50.90" y2="346.31" stroke="#000" stroke-width="0.85"/>
<line x1="371.20" y1="346.31" x2="365.90" y2="346.31" stroke="#000" stroke-width="0.85"/>
<line x1="45.60" y1="341.59" x2="50.90" y2="341.59" stroke="#000" stroke-width="0.85"/>
<line x1="371.20" y1="341.59" x2="365.90" y2="341.59" stroke="#000" stroke-width="0.85"/>
<line x1="45.60" y1="337.10" x2="52.60" y2="337.10" stroke="#000" stroke-width="1.25"/>
<line x1="371.20" y1="337.10" x2="364.20" y2="337.10" stroke="#000" stroke-width="1.25"/>
<line x1="45.60" y1="332.84" x2="50.90" y2="332.84" stroke="#000" stroke-width="0.85"/>
<line x1="371.20" y1="332.84" x2="365.90" y2="332.84" stroke="#000" stroke-width="0.85"/>
<line x1="45.60" y1="328.77" x2="50.90" y2="328.77" stroke="#000" stroke-width="0.85"/>
<line x1="371.20" y1="328.77" x2="365.90" y2="328.77" stroke="#000" stroke-width="0.85"/>
<line x1="45.60" y1="324.88" x2="50.90" y2="324.88" stroke="#000" stroke-width="0.85"/>
<line x1="371.20" y1="324.88" x2="365.90" y2="324.88" stroke="#000" stroke-width="0.85"/>
<line x1="45.60" y1="321.16" x2="50.90" y2="321.16" stroke="#000" stroke-width="0.85"/>
<line x1="371.20" y1="321.16" x2="365.90" y2="321.16" stroke="#000" stroke-width="0.85"/>
<text x="51.3" y="13.8" font-size="12" fill="#1e1e1e">7000 GeV pp</text>
<text x="366.5" y="14.2" font-size="12" fill="#1e1e1e" text-anchor="end">Soft QCD</text>
<text x="121.5" y="43.1" font-size="12" fill="#1e1e1e">Rapidity gap size<tspan font-size="9.85" dy="0">(pT &gt; 0.6, |η| &lt; 4.9)</tspan></text>
<rect x="73.8" y="59.6" width="5.6" height="5.4" fill="#000"/>
<text x="93.7" y="64.7" font-size="9.45" fill="#1e1e1e">ATLAS</text>
<line x1="64" y1="75" x2="88.5" y2="75" stroke="#3c9a14" stroke-width="1.2" stroke-dasharray="2.2,2.1"/>
<rect x="73.6" y="72.4" width="5.8" height="5.3" fill="none" stroke="#3c9a14" stroke-width="1.25"/>
<text x="94" y="77.4" font-size="9.45" fill="#1e1e1e">Herwig 7.0.1 default</text>
<line x1="64" y1="88.1" x2="88.5" y2="88.1" stroke="#0000ff" stroke-width="1.5"/>
<polygon points="76.5,85.5 79,91 74,91" fill="#0000ff"/>
<text x="94" y="90.0" font-size="9.45" fill="#1e1e1e">Pythia 8.308 default</text>
<line x1="64" y1="101.2" x2="88.5" y2="101.2" stroke="#ff0000" stroke-width="1.1" stroke-dasharray="1.2,1.4"/>
<polygon points="76.5,98 78.5,101.2 76.5,104.4 74.5,101.2" fill="#ff0000"/>
<text x="94" y="102.9" font-size="9.45" fill="#1e1e1e">Sherpa 1.4.0 default</text>
<text x="166" y="301.8" font-size="7.95" fill="#b4b4b4">ATLAS_2012_I1084540</text>
<text transform="translate(16.7,92.6) rotate(-90)" font-size="11.85" fill="#1e1e1e">dσ / dΔη<tspan font-size="8" dy="-5">F</tspan><tspan dy="5"> [mb]</tspan></text>
<text transform="translate(19,427.8) rotate(-90)" font-size="9.2" fill="#1e1e1e">Ratio to ATLAS</text>
<text transform="translate(381,131.3) rotate(-90)" font-size="9.3" fill="#888888">Rivet 3.1.10, ≥ 300k events</text>
<text transform="translate(382.1,314) rotate(-90)" font-size="9.55" fill="#888888">mcplots.cern.ch [arXiv:1306.3436]</text>
<text x="23.2" y="99.9" font-size="11" fill="#1e1e1e">1<tspan dx="-0.3">0</tspan></text><text x="34.6" y="94.9" font-size="7.5" fill="#1e1e1e">2</text>
<text x="40.5" y="176.8" font-size="11" fill="#1e1e1e" text-anchor="end">10</text>
<text x="40" y="255.9" font-size="11" fill="#1e1e1e" text-anchor="end">1</text>
<text x="38" y="340.5" font-size="11" fill="#1e1e1e" text-anchor="end">2</text>
<text x="39" y="402" font-size="11" fill="#1e1e1e" text-anchor="end">1</text>
<text x="373.6" y="340.5" font-size="11" fill="#1e1e1e">2</text>
<text x="373.6" y="402.6" font-size="11" fill="#1e1e1e">1</text>
<text x="373.4" y="462" font-size="11" fill="#1e1e1e" letter-spacing="0.3">0.5</text>
<text x="38.3" y="462" font-size="11" fill="#1e1e1e" text-anchor="end" letter-spacing="0.3">0.5</text>
<text x="51.85" y="489.1" font-size="11" fill="#1e1e1e" text-anchor="middle">0</text>
<text x="130.09" y="489.1" font-size="11" fill="#1e1e1e" text-anchor="middle">2</text>
<text x="208.33" y="489.1" font-size="11" fill="#1e1e1e" text-anchor="middle">4</text>
<text x="286.57" y="489.1" font-size="11" fill="#1e1e1e" text-anchor="middle">6</text>
<text x="364.81" y="489.1" font-size="11" fill="#1e1e1e" text-anchor="middle">8</text>
<text x="351" y="505" font-size="11" fill="#1e1e1e">Δη<tspan font-size="8" dx="1.3" dy="-6.3">F</tspan></text>
</svg></body></html>
